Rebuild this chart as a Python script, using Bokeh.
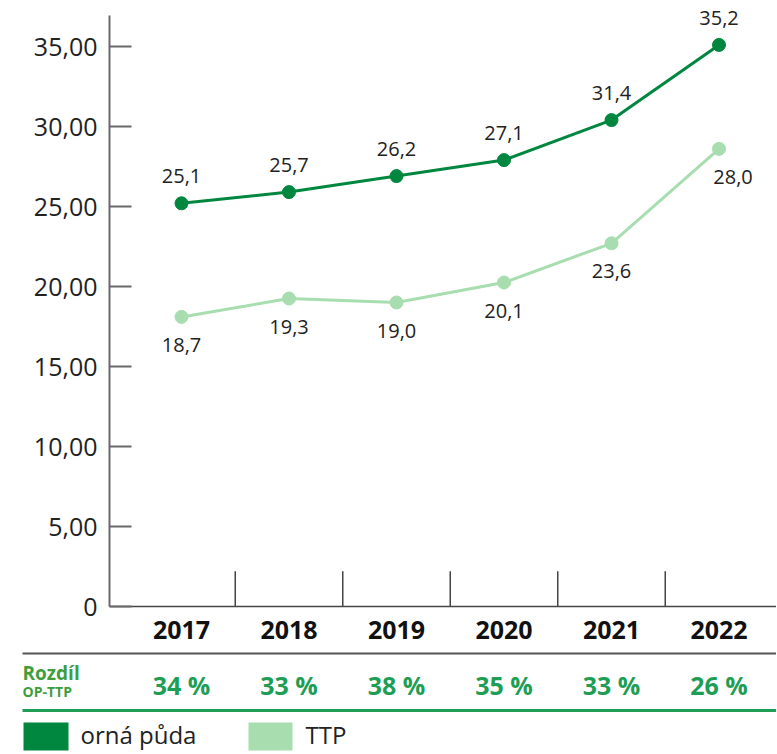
from bokeh.plotting import figure
from bokeh.models import Range1d, FixedTicker, ColumnDataSource
from bokeh.layouts import column
from bokeh.embed import file_html
from bokeh.resources import INLINE
from bokeh.core.properties import value

# ---------------- data ----------------
years = ["2017", "2018", "2019", "2020", "2021", "2022"]
orna_puda = [25.2, 25.9, 26.9, 27.9, 30.4, 35.1]
orna_puda_labels = ["25,1", "25,7", "26,2", "27,1", "31,4", "35,2"]
ttp = [18.1, 19.25, 19.0, 20.25, 22.7, 28.6]
ttp_labels = ["18,7", "19,3", "19,0", "20,1", "23,6", "28,0"]
rozdil = ["34 %", "33 %", "38 %", "35 %", "33 %", "26 %"]
y_ticks = [0, 5, 10, 15, 20, 25, 30, 35]
y_tick_labels = ["0", "5,00", "10,00", "15,00", "20,00", "25,00", "30,00", "35,00"]
series_names = ["orná půda", "TTP"]

# ---------------- style ----------------
FONT = "Open Sans"
DARK = "#00873f"
LIGHT = "#a8ddb0"
PCT = "#1e9e55"
RZ = "#3f9e3c"
AXIS = "#6a6a6a"
X0, DX = 181.0, 107.5
W = 776
LEFT = 109


def px2i(px):
    return (px - X0) / DX


xs = list(range(len(years)))
ttp_dx = [0, 0, 0, 0, 0, 14]

xr = Range1d(px2i(LEFT), px2i(W))

p = figure(width=W, height=652,
           x_range=xr,
           y_range=Range1d(0, (606 - 15) / 16.0),
           output_backend="svg", toolbar_location=None,
           min_border_left=LEFT, min_border_right=0,
           min_border_top=15, min_border_bottom=46)
p.outline_line_color = None
p.grid.visible = False

# y axis
ya = p.yaxis[0]
ya.ticker = FixedTicker(ticks=y_ticks)
ya.major_label_overrides = {t: l for t, l in zip(y_ticks, y_tick_labels)}
ya.major_tick_in = 22
ya.major_tick_out = 0
ya.minor_tick_in = 0
ya.minor_tick_out = 0
ya.major_tick_line_color = AXIS
ya.major_tick_line_width = 2
ya.axis_line_color = AXIS
ya.axis_line_width = 2
ya.major_label_standoff = 12
ya.major_label_text_font = FONT
ya.major_label_text_font_size = "25px"
ya.major_label_text_color = "#222222"

# x axis
xa = p.xaxis[0]
xa.ticker = FixedTicker(ticks=xs)
xa.major_label_overrides = {i: y for i, y in zip(xs, years)}
xa.major_tick_in = 0
xa.major_tick_out = 0
xa.minor_tick_in = 0
xa.minor_tick_out = 0
xa.axis_line_color = "#444444"
xa.axis_line_width = 1.5
xa.major_label_standoff = 14
xa.major_label_text_font = FONT
xa.major_label_text_font_style = "bold"
xa.major_label_text_font_size = "25px"
xa.major_label_text_color = "#111111"

# category separators
seps = [i + 0.5 for i in xs[:-1]]
p.segment(x0=seps, y0=[0] * len(seps), x1=seps, y1=[2.2] * len(seps),
          line_color="#444444", line_width=1.5)

src_op = ColumnDataSource(dict(x=xs, y=orna_puda, lab=orna_puda_labels))
src_tt = ColumnDataSource(dict(x=xs, y=ttp, lab=ttp_labels, dx=ttp_dx))

p.line("x", "y", source=src_tt, line_color=LIGHT, line_width=3)
p.scatter("x", "y", source=src_tt, size=13, fill_color=LIGHT, line_color=LIGHT)
p.line("x", "y", source=src_op, line_color=DARK, line_width=3)
p.scatter("x", "y", source=src_op, size=13, fill_color=DARK, line_color=DARK)

p.text("x", "y", text="lab", source=src_op, y_offset=-27,
       text_align="center", text_baseline="middle",
       text_font=value(FONT), text_font_size="20px", text_color="#222222",
       level="overlay")
p.text("x", "y", text="lab", source=src_tt, y_offset=28, x_offset="dx",
       text_align="center", text_baseline="middle",
       text_font=value(FONT), text_font_size="20px", text_color="#222222",
       level="overlay")

# ---------------- bottom table + legend ----------------
p2 = figure(width=W, height=100,
            x_range=xr,
            y_range=Range1d(752, 652),
            x_axis_type=None, y_axis_type=None,
            output_backend="svg", toolbar_location=None,
            min_border_left=LEFT, min_border_right=0,
            min_border_top=0, min_border_bottom=0)
p2.outline_line_color = None
p2.grid.visible = False

p2.segment(x0=[px2i(22)], y0=[653], x1=[px2i(W)], y1=[653],
           line_color="#555555", line_width=2, level="overlay")
p2.segment(x0=[px2i(22)], y0=[710], x1=[px2i(W)], y1=[710],
           line_color=PCT, line_width=3, level="overlay")

p2.text(x=[px2i(22)], y=[672], text=["Rozdíl"], text_align="left",
        text_baseline="middle", text_font=value(FONT), text_font_style="bold",
        text_font_size="19px", text_color=RZ, level="overlay")
p2.text(x=[px2i(22)], y=[691], text=["OP-TTP"], text_align="left",
        text_baseline="middle", text_font=value(FONT), text_font_style="bold",
        text_font_size="14px", text_color=RZ, level="overlay")
p2.text(x=xs, y=[684] * len(xs), text=rozdil, text_align="center",
        text_baseline="middle", text_font=value(FONT), text_font_style="bold",
        text_font_size="25px", text_color=PCT, level="overlay")

# legend (drawn manually so that it may sit left of the plot frame)
leg_left = [px2i(23), px2i(248)]
leg_right = [px2i(68), px2i(292)]
p2.quad(left=leg_left, right=leg_right, top=[722, 722], bottom=[750, 750],
        fill_color=[DARK, LIGHT], line_color=None, level="overlay")
p2.text(x=[px2i(80), px2i(305)], y=[734, 734], text=series_names,
        text_align="left", text_baseline="middle", text_font=value(FONT),
        text_font_size="24px", text_color="#222222", level="overlay")

layout = column(p, p2, spacing=0)
open("out.html", "w").write(file_html(layout, INLINE))
